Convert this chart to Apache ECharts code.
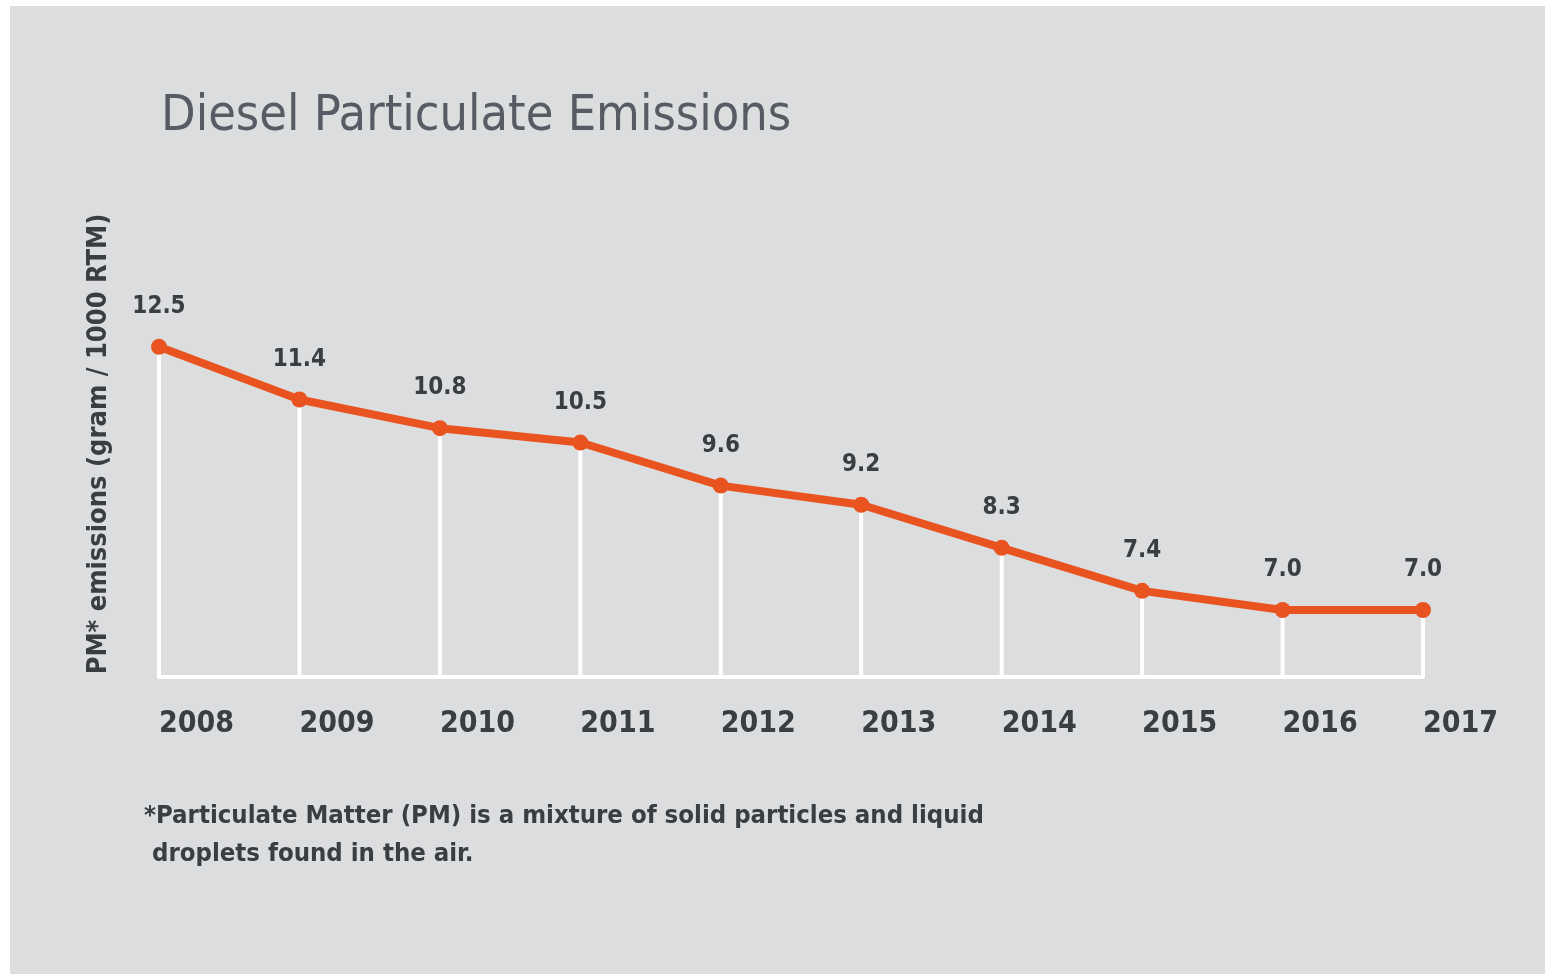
<!DOCTYPE html>
<html>
<head>
<meta charset="utf-8">
<script src="https://cdn.jsdelivr.net/npm/echarts@6/dist/echarts.min.js"></script>
<style>
html,body{margin:0;padding:0;background:#ffffff;width:1545px;height:974px;overflow:hidden;}
#chart{position:absolute;left:10px;top:6px;width:1535px;height:968px;}
</style>
</head>
<body>
<div id="chart"></div>
<script>
const years = ['2008','2009','2010','2011','2012','2013','2014','2015','2016','2017'];
const emissions = [12.5, 11.4, 10.8, 10.5, 9.6, 9.2, 8.3, 7.4, 7.0, 7.0];
const titleText = 'Diesel Particulate Emissions';
const yAxisName = 'PM* emissions (gram / 1000 RTM)';
const footnoteLines = ['*Particulate Matter (PM) is a mixture of solid particles and liquid', ' droplets found in the air.'];

const FONT = '"DejaVu Sans Condensed", "Liberation Sans Narrow", Roboto, sans-serif';
const chart = echarts.init(document.getElementById('chart'));
chart.setOption({
  backgroundColor: '#dcdddf',
  animation: false,
  title: {
    text: titleText,
    left: 146, top: 81,
    textStyle: {fontFamily: FONT, fontSize: 50, fontWeight: 'normal', color: '#575b63'}
  },
  grid: {left: 149, right: 122, top: 293, bottom: 297},
  xAxis: {
    type: 'category', data: years, boundaryGap: false,
    axisLine: {lineStyle: {color: '#ffffff', width: 4}},
    axisTick: {show: false},
    splitLine: {show: false},
    axisLabel: {align: 'left', margin: 32, fontFamily: FONT, fontWeight: 'bold', fontSize: 30, color: '#3a3d42'}
  },
  yAxis: {
    type: 'value', min: 5.6, max: 13.5,
    axisLine: {show: false}, axisTick: {show: false}, axisLabel: {show: false}, splitLine: {show: false}
  },
  graphic: [
    {type: 'text', x: 89, y: 438, rotation: Math.PI / 2,
     style: {text: yAxisName, fontFamily: FONT, fontWeight: 'bold', fontSize: 27, fill: '#3a3d42', align: 'center', verticalAlign: 'middle'}},
    {type: 'text', left: 134, top: 791,
     style: {text: footnoteLines.join('\n'), fontFamily: FONT, fontWeight: 'bold', fontSize: 25.5, lineHeight: 38, fill: '#3a3d42'}}
  ],
  series: [
    {type: 'bar', data: emissions, barWidth: 4, itemStyle: {color: '#ffffff'}, silent: true, z: 1},
    {type: 'line', data: emissions, z: 3,
     symbol: 'circle', symbolSize: 16,
     lineStyle: {color: '#e8531f', width: 8},
     itemStyle: {color: '#e8531f'},
     label: {show: true, position: 'top', distance: 20, formatter: p => p.value.toFixed(1),
       fontFamily: FONT, fontWeight: 'bold', fontSize: 24, color: '#3a3d42'}}
  ]
});
</script>
</body>
</html>
